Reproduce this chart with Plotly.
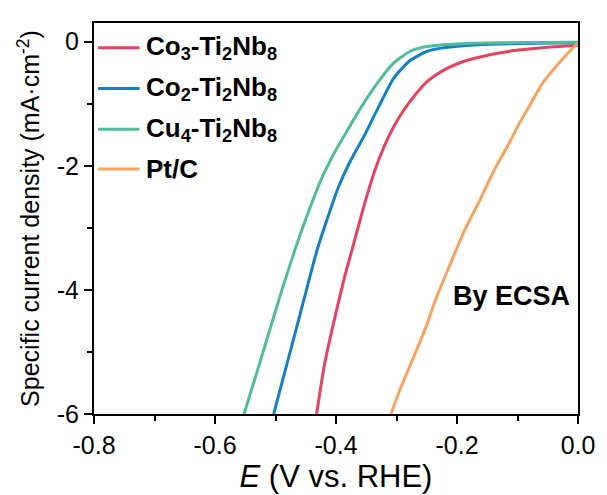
import plotly.graph_objects as go

# Data (E in V vs RHE, j in mA/cm^2)
co3_x = [-0.432, -0.419, -0.402, -0.386, -0.372, -0.353, -0.336, -0.320, -0.304, -0.287, -0.266, -0.249, -0.222, -0.195, -0.167, -0.113, -0.058, 0.0]
co3_y = [-6.0, -5.20, -4.45, -3.80, -3.30, -2.62, -2.08, -1.68, -1.36, -1.09, -0.82, -0.64, -0.46, -0.34, -0.26, -0.155, -0.10, -0.06]

co2_x = [-0.503, -0.484, -0.462, -0.451, -0.431, -0.397, -0.375, -0.353, -0.331, -0.304, -0.277, -0.249, -0.222, -0.167, -0.100, 0.0]
co2_y = [-6.0, -5.30, -4.49, -4.08, -3.35, -2.37, -1.90, -1.51, -1.08, -0.58, -0.30, -0.155, -0.10, -0.05, -0.03, -0.02]

cu4_x = [-0.552, -0.528, -0.509, -0.490, -0.468, -0.447, -0.424, -0.402, -0.380, -0.356, -0.331, -0.304, -0.277, -0.250, -0.222, -0.168, -0.100, 0.0]
cu4_y = [-6.0, -5.24, -4.63, -4.02, -3.36, -2.78, -2.21, -1.78, -1.41, -1.02, -0.66, -0.34, -0.155, -0.08, -0.05, -0.025, -0.015, -0.01]

pt_x = [-0.309, -0.296, -0.266, -0.249, -0.236, -0.214, -0.186, -0.162, -0.140, -0.113, -0.096, -0.077, -0.058, -0.044, -0.031, -0.018, -0.006, 0.0]
pt_y = [-6.0, -5.65, -4.95, -4.54, -4.17, -3.65, -3.01, -2.55, -2.10, -1.62, -1.30, -0.98, -0.66, -0.49, -0.34, -0.20, -0.075, -0.03]

names = ["Co<sub>3</sub>-Ti<sub>2</sub>Nb<sub>8</sub>",
         "Co<sub>2</sub>-Ti<sub>2</sub>Nb<sub>8</sub>",
         "Cu<sub>4</sub>-Ti<sub>2</sub>Nb<sub>8</sub>",
         "Pt/C"]
colors = ["#E2445F", "#1580C4", "#4FBC9D", "#F5A35E"]

x_ticks = [-0.8, -0.6, -0.4, -0.2, 0.0]
x_ticklabels = ["-0.8", "-0.6", "-0.4", "-0.2", "0.0"]
y_ticks = [0, -2, -4, -6]
y_ticklabels = ["0", "-2", "-4", "-6"]

series = [(co3_x, co3_y), (co2_x, co2_y), (cu4_x, cu4_y), (pt_x, pt_y)]

FONT = "Liberation Sans, Arial"

fig = go.Figure()
for (xs, ys), nm, c in zip(series, names, colors):
    fig.add_trace(go.Scatter(x=xs, y=ys, mode="lines", name=nm, showlegend=False,
                             line=dict(color=c, width=3, shape="spline", smoothing=0.6)))

axis_common = dict(showline=True, linecolor="black", linewidth=2, mirror=True,
                   ticks="outside", ticklen=8, tickwidth=2, tickcolor="black",
                   showgrid=False, zeroline=False,
                   tickfont=dict(family=FONT, size=25, color="black"),
                   minor=dict(ticks="outside", ticklen=5, tickwidth=2, tickcolor="black", showgrid=False))

fig.update_xaxes(range=[-0.8, 0.0], tickvals=x_ticks, ticktext=x_ticklabels,
                 minor_dtick=0.1,
                 title=dict(text="<i>E</i> (V vs. RHE)", standoff=2,
                            font=dict(family=FONT, size=31, color="black")),
                 **axis_common)
fig.update_yaxes(range=[-6, 0.3], tickvals=y_ticks, ticktext=y_ticklabels,
                 minor_dtick=1, minor_tick0=-1,
                 title=dict(text="Specific current density (mA·cm<sup>-2</sup>)", standoff=10,
                            font=dict(family=FONT, size=25, color="black")),
                 **axis_common)

# Legend drawn in paper coordinates (line sample + bold label)
legend_rows_px = [48, 89, 130, 170]
for nm, c, py in zip(names, colors, legend_rows_px):
    yp = (417 - py) / 394
    fig.add_shape(type="line", xref="paper", yref="paper",
                  x0=(98 - 94) / 488, x1=(140 - 94) / 488, y0=yp, y1=yp,
                  line=dict(color=c, width=3))
    fig.add_annotation(xref="paper", yref="paper", x=(144 - 94) / 488, y=yp,
                       xanchor="left", yanchor="middle", showarrow=False,
                       text=f"<b>{nm}</b>",
                       font=dict(family=FONT, size=26, color="black"))

fig.add_annotation(x=-0.11, y=-4.10, text="<b>By ECSA</b>", showarrow=False,
                   font=dict(family=FONT, size=27, color="black"))

fig.update_layout(
    width=607, height=495,
    margin=dict(l=94, r=25, t=23, b=78),
    plot_bgcolor="white", paper_bgcolor="white",
    showlegend=False,
)
fig.write_html("out.html")
